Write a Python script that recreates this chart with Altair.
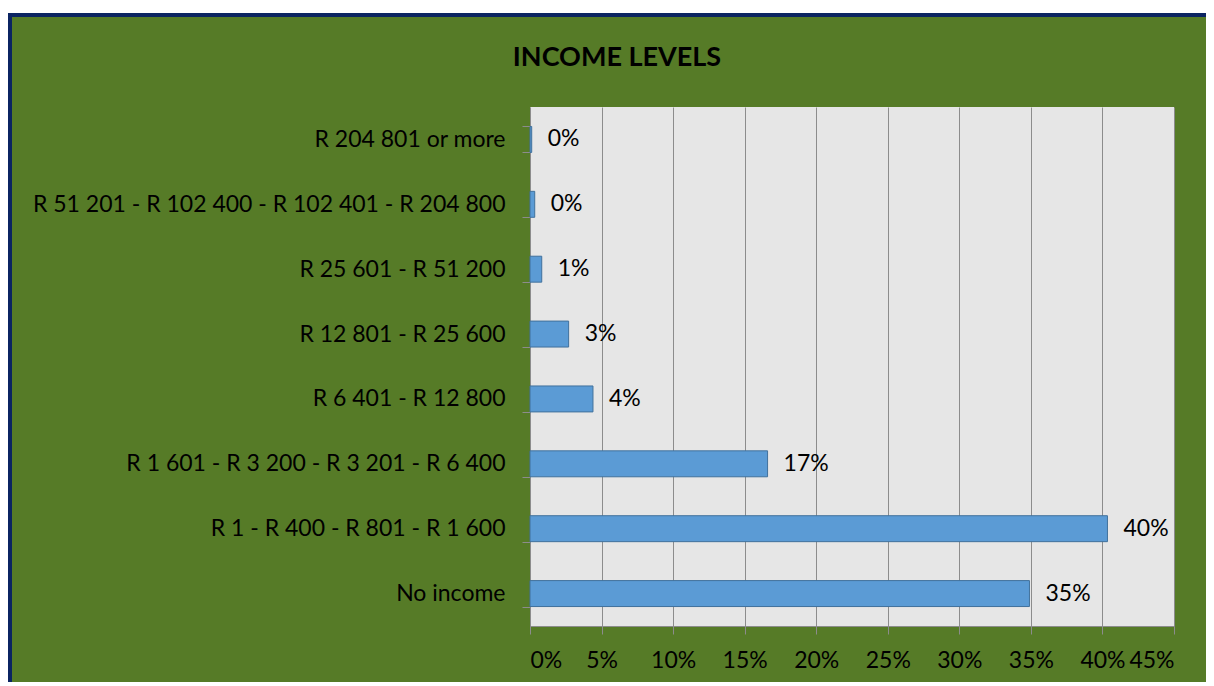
import altair as alt
import pandas as pd

categories = [
    "R 204 801 or more",
    "R 51 201 - R 102 400 - R 102 401 - R 204 800",
    "R 25 601 - R 51 200",
    "R 12 801 - R 25 600",
    "R 6 401 - R 12 800",
    "R 1 601 - R 3 200 - R 3 201 - R 6 400",
    "R 1 - R 400 - R 801 - R 1 600",
    "No income",
]
shares = [0.0012, 0.0033, 0.0082, 0.027, 0.044, 0.166, 0.4035, 0.349]
tick_values = [0.0, 0.05, 0.10, 0.15, 0.20, 0.25, 0.30, 0.35, 0.40, 0.45]

df = pd.DataFrame({"category": categories, "share": shares})

FONT = "Lato"
FS = 23
GREEN = "#567b27"
NAVY = "#0b2462"
GRID = "#8c8c8c"

PAD_L, PAD_T = 522, 99
W, H = 644, 519

x_enc = alt.X(
    "share:Q",
    scale=alt.Scale(domain=[0, 0.45], nice=False, zero=True),
    axis=alt.Axis(
        values=tick_values, format=".0%", title=None, grid=True,
        gridColor=GRID, gridWidth=1, tickColor=GRID, tickSize=8,
        domainColor=GRID, domainWidth=1, labelFontSize=FS, labelColor="#000000",
        labelFont=FONT, labelPadding=15,
    ),
)
y_enc = alt.Y(
    "category:N", sort=categories,
    scale=alt.Scale(paddingInner=0.6, paddingOuter=0.3),
    axis=alt.Axis(
        title=None, tickBand="extent", tickColor=GRID, tickSize=8,
        domainColor=GRID, domainWidth=1, labelFontSize=FS, labelColor="#000000",
        labelFont=FONT, labelPadding=17, labelLimit=0,
    ),
)

one = alt.Data(values=[{}])
top_strip = alt.Chart(one).mark_rect(fill="white").encode(
    x=alt.value(-PAD_L), x2=alt.value(800), y=alt.value(-PAD_T), y2=alt.value(-PAD_T + 5)
)
border = alt.Chart(one).mark_rect(filled=False, stroke=NAVY, strokeWidth=4).encode(
    x=alt.value(-PAD_L + 2), x2=alt.value(900), y=alt.value(-PAD_T + 7), y2=alt.value(900)
)

bars = alt.Chart(df).mark_bar(fill="#5b9bd5", stroke="#41719c", strokeWidth=1).encode(
    x=x_enc, y=y_enc
)
labels = alt.Chart(df).mark_text(
    align="left", baseline="middle", dx=16, fontSize=FS, font=FONT, color="#000000"
).encode(
    x="share:Q", y=alt.Y("category:N", sort=categories),
    text=alt.Text("share:Q", format=".0%"),
)

chart = alt.layer(bars, labels, top_strip, border).properties(
    width=W, height=H,
    autosize=alt.AutoSizeParams(type="none"),
    padding={"left": PAD_L, "top": PAD_T, "right": 32, "bottom": 56},
    title=alt.TitleParams(
        "INCOME LEVELS", font=FONT, fontSize=27, fontWeight="bold", color="#000000",
        anchor="middle", frame="group", dx=-235, offset=-85, baseline="alphabetic",
    ),
).configure(background=GREEN).configure_view(fill="#e6e6e6", stroke=None)

chart.save("out.html", embed_options={"renderer": "svg", "actions": False})
